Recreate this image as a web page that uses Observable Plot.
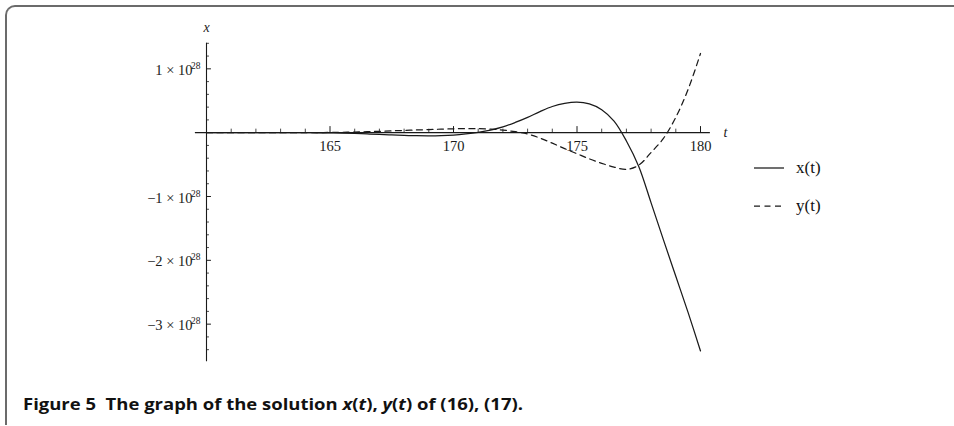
<!DOCTYPE html>
<html>
<head>
<meta charset="utf-8">
<script src="https://cdn.jsdelivr.net/npm/d3@7"></script>
<script src="https://cdn.jsdelivr.net/npm/@observablehq/plot@0.6"></script>
<style>
  html, body { margin: 0; padding: 0; background: #fff; }
  body { width: 954px; height: 426px; position: relative; overflow: hidden; }
  #frame { position: absolute; left: 5px; top: 5px; width: 960px; height: 418px;
           border-left: 2px solid #6b6b6b; border-top: 2px solid #6b6b6b; border-top-left-radius: 10px; }
  #chart { position: absolute; left: 0; top: 0; }
  #legend { position: absolute; left: 754px; top: 156px; font-family: "Liberation Serif", serif; font-size: 17px; color: #111; }
  .item { display: flex; align-items: center; height: 24px; margin-bottom: 14px; }
  .item svg { margin-right: 12px; }
  #caption { position: absolute; left: 23px; top: 393px; font-family: "Open Sans", Roboto, sans-serif; font-weight: bold; font-size: 15.5px; color: #111; white-space: nowrap; transform-origin: 0 50%; }
</style>
</head>
<body>
<div id="frame"></div>
<div id="chart"></div>
<div id="legend"></div>
<div id="caption">Figure 5&nbsp;&nbsp;The graph of the solution <i>x</i>(<i>t</i>), <i>y</i>(<i>t</i>) of (16), (17).</div>
<script>
// ---- data (values in units of 1e28) ----
const tValues = [160, 160.5, 161, 161.5, 162, 162.5, 163, 163.5, 164, 164.5, 165, 165.5, 166, 166.5, 167, 167.5, 168, 168.5, 169, 169.5, 170, 170.5, 171, 171.5, 172, 172.5, 173, 173.5, 174, 174.5, 175, 175.5, 176, 176.5, 177, 177.5, 178, 178.5, 179, 179.5, 180];
const xValues = [0, 0, 0, 0, 0, 0, 0, 0, -0.001, -0.002, -0.004, -0.008, -0.013, -0.02, -0.028, -0.036, -0.043, -0.048, -0.05, -0.047, -0.038, -0.02, 0.005, 0.04, 0.09, 0.16, 0.24, 0.33, 0.41, 0.46, 0.48, 0.45, 0.36, 0.18, -0.13, -0.53, -1.1, -1.68, -2.25, -2.82, -3.42];
const yValues = [0, 0, 0, 0, 0, 0, 0, 0, 0.001, 0.002, 0.003, 0.006, 0.01, 0.015, 0.021, 0.028, 0.035, 0.042, 0.049, 0.055, 0.06, 0.063, 0.062, 0.055, 0.04, 0.015, -0.02, -0.085, -0.165, -0.25, -0.33, -0.41, -0.48, -0.54, -0.575, -0.51, -0.31, -0.09, 0.24, 0.68, 1.24];
const seriesNames = ["x(t)", "y(t)"];
const xMajorTicks = [165, 170, 175, 180];
const xMinorTicks = [161, 162, 163, 164, 166, 167, 168, 169, 171, 172, 173, 174, 176, 177, 178, 179];
const yMajorTicks = [1, -1, -2, -3];
const yMinorTicks = [1.4, 1.2, 0.8, 0.6, 0.4, 0.2, -0.2, -0.4, -0.6, -0.8, -1.2, -1.4, -1.6, -1.8, -2.2, -2.4, -2.6, -2.8, -3.2, -3.4];
const yTickLabels = ["1 \u00d7 10", "\u22121 \u00d7 10", "\u22122 \u00d7 10", "\u22123 \u00d7 10"];
const exponentLabel = "28";
const axisLabelT = "t";
const axisLabelX = "x";

// ---- layout / style constants ----
const tDomain = [160, 180];
const vDomain = [-3.59, 1.4];
const tAxisExtent = [159.55, 180.4];
const xTickMajorLen = 0.095, xTickMinorLen = 0.055;   // in value units
const yTickMajorLen = 0.2, yTickMinorLen = 0.12;     // in t units
const serif = "Liberation Serif";
const ink = "#1a1a1a";
const captionWidth = 500;

const xData = tValues.map((t, i) => ({t, v: xValues[i]}));
const yData = tValues.map((t, i) => ({t, v: yValues[i]}));

const chart = Plot.plot({
  width: 954,
  height: 380,
  marginLeft: 206,
  marginRight: 254,
  marginTop: 42.8,
  marginBottom: 18.7,
  x: {domain: tDomain, axis: null},
  y: {domain: vDomain, axis: null},
  style: {background: "transparent", overflow: "visible"},
  marks: [
    Plot.ruleY([0], {x1: tAxisExtent[0], x2: tAxisExtent[1], stroke: ink, strokeWidth: 1.1}),
    Plot.ruleX([tDomain[0]], {y1: vDomain[0], y2: vDomain[1], stroke: ink, strokeWidth: 1.1}),
    Plot.ruleX(xMajorTicks, {x: d => d, y1: 0, y2: xTickMajorLen, stroke: ink, strokeWidth: 1}),
    Plot.ruleX(xMinorTicks, {x: d => d, y1: 0, y2: xTickMinorLen, stroke: ink, strokeWidth: 0.8}),
    Plot.ruleY(yMajorTicks, {y: d => d, x1: tDomain[0], x2: tDomain[0] + yTickMajorLen, stroke: ink, strokeWidth: 1}),
    Plot.ruleY(yMinorTicks, {y: d => d, x1: tDomain[0], x2: tDomain[0] + yTickMinorLen, stroke: ink, strokeWidth: 0.8}),
    Plot.text(xMajorTicks, {x: d => d, y: 0, dy: 14, text: d => String(d), fontFamily: serif, fontSize: 14.5, fill: ink}),
    Plot.text(yMajorTicks, {x: tDomain[0], y: d => d, dx: -14, dy: 1.5, text: (d, i) => yTickLabels[i], textAnchor: "end", fontFamily: serif, fontSize: 14.5, fill: ink}),
    Plot.text(yMajorTicks, {x: tDomain[0], y: d => d, dx: -6, dy: -3, text: () => exponentLabel, textAnchor: "end", fontFamily: serif, fontSize: 9.5, fill: ink}),
    Plot.text([axisLabelT], {x: tDomain[1], y: 0, dx: 25, text: d => d, fontFamily: serif, fontStyle: "italic", fontSize: 14, fill: ink}),
    Plot.text([axisLabelX], {x: tDomain[0], y: vDomain[1], dy: -16, text: d => d, fontFamily: serif, fontStyle: "italic", fontSize: 14, fill: ink}),
    Plot.line(xData, {x: "t", y: "v", curve: "catmull-rom", stroke: ink, strokeWidth: 1.25}),
    Plot.line(yData, {x: "t", y: "v", curve: "catmull-rom", stroke: ink, strokeWidth: 1.25, strokeDasharray: "6,4.5"})
  ]
});
document.getElementById("chart").appendChild(chart);

// legend
const legend = document.getElementById("legend");
seriesNames.forEach((name, i) => {
  const item = document.createElement("div");
  item.className = "item";
  item.innerHTML = `<svg width="30" height="4"><line x1="0" y1="2" x2="30" y2="2" stroke="${ink}" stroke-width="1.25" ${i === 1 ? 'stroke-dasharray="6,4.5"' : ''}/></svg><span>${name}</span>`;
  legend.appendChild(item);
});

// fit caption width by horizontal scaling
const cap = document.getElementById("caption");
const w = cap.getBoundingClientRect().width;
cap.style.transform = `scaleX(${(captionWidth / w).toFixed(4)})`;
</script>
</body>
</html>
